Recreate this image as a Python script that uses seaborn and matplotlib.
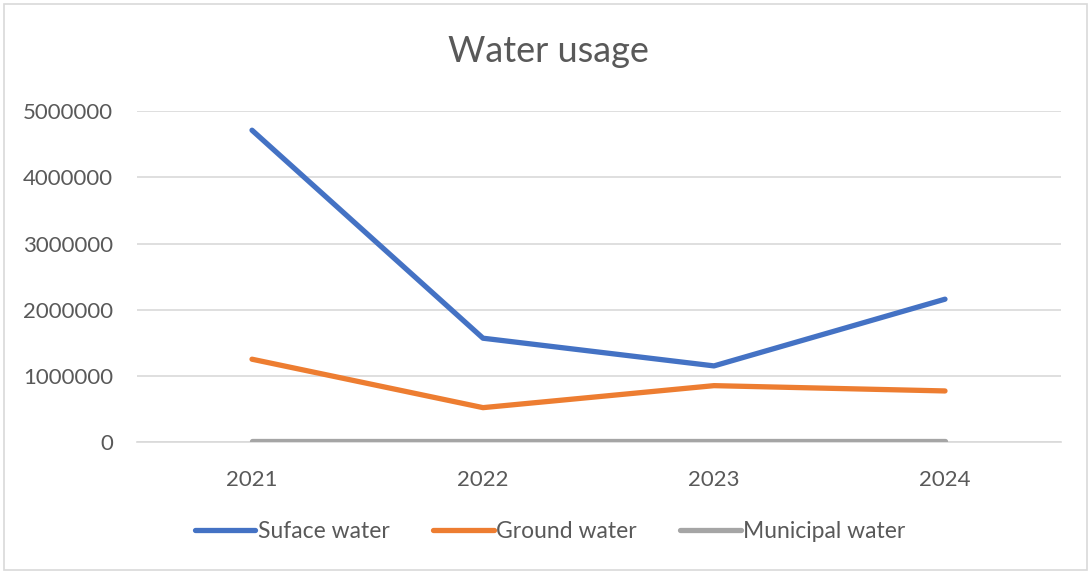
import matplotlib
matplotlib.use("Agg")
import matplotlib.pyplot as plt
from matplotlib.patches import Rectangle
from matplotlib.ticker import FixedLocator
import seaborn as sns
import pandas as pd

years = ["2021", "2022", "2023", "2024"]
surface_water = [4710000, 1571000, 1153000, 2160000]
ground_water = [1254000, 523000, 855000, 775000]
municipal_water = [15000, 15000, 15000, 15000]
series_names = ["Suface water", "Ground water", "Municipal water"]
y_ticks = [0, 1000000, 2000000, 3000000, 4000000, 5000000]

df = pd.DataFrame({
    "Year": years * 3,
    "Usage": surface_water + ground_water + municipal_water,
    "Source": [series_names[0]] * 4 + [series_names[1]] * 4 + [series_names[2]] * 4,
})

sns.set_theme(style="white")
plt.rcParams["font.family"] = ["Lato", "DejaVu Sans"]

text_color = "#595959"
grid_color = "#D9D9D9"
palette = {series_names[0]: "#4472C4", series_names[1]: "#ED7D31", series_names[2]: "#A5A5A5"}

fig = plt.figure(figsize=(10.91, 5.74), dpi=100)
W, H = 1091, 574
left, right, top, bottom = 136.5, 1060.5, 111, 442.3
ax = fig.add_axes([left / W, 1 - bottom / H, (right - left) / W, (bottom - top) / H])

sns.lineplot(data=df, x="Year", y="Usage", hue="Source", palette=palette,
             linewidth=3.8, ax=ax, sort=False, legend=True, zorder=3)

ax.set_xlim(-0.5, 3.5)
ax.set_ylim(0, 5000000)
ax.yaxis.set_major_locator(FixedLocator(y_ticks))
ax.set_yticklabels([str(v) for v in y_ticks])
ax.grid(axis="y", color=grid_color, linewidth=1.2, zorder=0)
ax.grid(axis="x", visible=False)
for side in ["left", "right", "top"]:
    ax.spines[side].set_visible(False)
ax.spines["bottom"].set_color(grid_color)
ax.spines["bottom"].set_linewidth(1.2)
ax.tick_params(axis="both", length=0, labelsize=16, colors=text_color)
ax.tick_params(axis="y", pad=17)
ax.tick_params(axis="x", pad=20)
ax.set_xlabel("")
ax.set_ylabel("")

fig.text(548 / W, 1 - 52 / H, "Water usage", ha="center", va="center",
         fontsize=26, color=text_color)

handles, labels = ax.get_legend_handles_labels()
ax.legend(handles, labels, loc="center", bbox_to_anchor=(550 / W, 1 - 532 / H),
          bbox_transform=fig.transFigure, ncol=3, frameon=False, fontsize=16.5,
          handlelength=2.65, handletextpad=0.1, columnspacing=1.9,
          labelcolor=text_color)

fig.patches.append(Rectangle((4 / W, 4 / H), 1 - 8 / W, 1 - 8 / H,
                             transform=fig.transFigure, fill=False,
                             edgecolor=grid_color, linewidth=1.2))

fig.savefig("out.png", dpi=100)
